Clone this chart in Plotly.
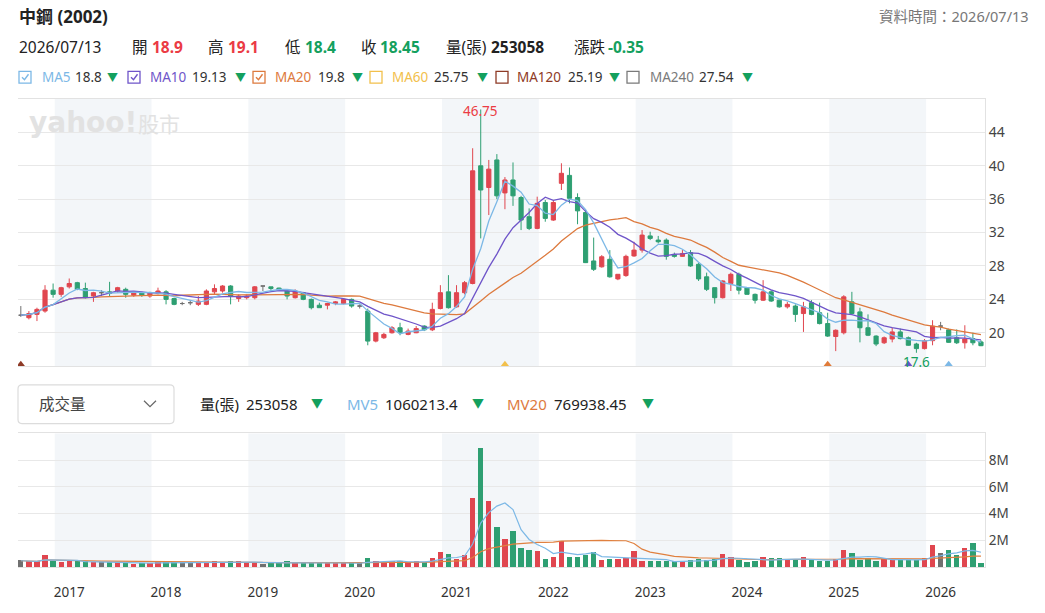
import plotly.graph_objects as go
import pandas as pd

# ---------------- data ----------------
months = pd.period_range("2016-09", periods=120, freq="M")

opens = [22.1, 21.8, 22.2, 22.6, 25.1, 24.6, 25.5, 26.0, 25.3, 24.4,
         24.8, 24.9, 25.0, 25.2, 24.5, 24.8, 24.4, 24.7, 24.9, 24.1,
         23.5, 23.6, 23.4, 23.4, 24.9, 25.0, 25.6, 24.1, 24.2, 24.2,
         25.6, 25.5, 25.35, 25.0, 24.2, 24.8, 24.0, 23.3, 23.3, 23.5,
         23.5, 24.0, 23.2, 22.6, 19.0, 19.4, 20.0, 20.6, 19.8, 20.0,
         20.8, 20.35, 22.9, 24.9, 23.1, 24.8, 25.9, 40.0, 37.4, 40.7,
         36.75, 38.3, 36.2, 33.9, 32.5, 35.6, 33.5, 37.9, 38.85, 36.2,
         34.4, 28.6, 27.9, 28.8, 26.45, 26.85, 29.2, 29.9, 31.6, 31.1,
         31.1, 29.35, 29.15, 29.6, 28.2, 26.7, 25.4, 24.2, 25.9, 27.0,
         25.4, 24.6, 23.9, 24.9, 23.9, 23.1, 23.2, 22.3, 23.6, 22.4,
         21.1, 19.55, 20.0, 23.7, 22.5, 20.6, 19.6, 18.8, 19.25, 20.1,
         19.4, 18.65, 18.1, 19.05, 20.8, 20.35, 19.4, 18.8, 19.3, 18.9]
highs = [23.2, 22.6, 23.0, 25.7, 25.9, 25.5, 26.5, 26.1, 26.0, 24.9,
         25.1, 26.1, 25.5, 25.4, 24.9, 24.9, 24.9, 25.4, 25.1, 24.2,
         23.7, 23.9, 24.4, 25.2, 25.8, 25.7, 25.7, 24.6, 24.6, 25.6,
         25.6, 25.5, 25.4, 25.2, 25.2, 24.9, 24.1, 23.6, 23.6, 23.8,
         24.1, 24.1, 23.4, 22.9, 20.1, 20.0, 20.8, 21.2, 20.5, 20.8,
         20.9, 23.6, 25.7, 26.9, 25.7, 26.2, 42.1, 46.75, 40.7, 41.4,
         38.65, 40.4, 36.4, 34.9, 36.3, 35.9, 35.9, 40.3, 39.8, 36.7,
         34.7, 31.4, 29.3, 29.9, 27.0, 29.35, 30.9, 32.3, 32.1, 31.6,
         31.3, 29.6, 29.9, 29.9, 28.35, 27.2, 25.4, 26.3, 27.2, 27.2,
         25.4, 24.7, 26.3, 25.1, 24.0, 23.7, 23.4, 23.7, 23.9, 23.6,
         22.4, 20.4, 24.5, 24.9, 23.0, 22.2, 19.7, 19.55, 20.6, 20.5,
         19.55, 18.8, 19.25, 21.5, 21.3, 20.5, 20.4, 20.9, 20.0, 19.1]
lows = [21.9, 21.6, 21.4, 22.4, 24.2, 24.3, 25.3, 25.1, 24.1, 23.7,
        24.4, 24.4, 24.8, 24.2, 24.3, 24.3, 24.2, 24.6, 23.4, 23.3,
        23.3, 23.3, 23.2, 23.3, 24.6, 24.8, 23.4, 23.7, 24.0, 24.0,
        25.0, 25.0, 25.0, 24.0, 24.1, 23.9, 22.8, 23.0, 22.8, 23.3,
        23.4, 23.0, 22.9, 18.5, 18.85, 19.25, 19.9, 19.7, 19.7, 19.95,
        20.2, 20.2, 22.8, 22.9, 23.0, 24.6, 25.8, 31.3, 34.1, 36.0,
        34.8, 35.2, 32.3, 32.3, 32.4, 33.3, 33.4, 37.1, 35.5, 33.0,
        28.35, 27.4, 27.8, 26.6, 26.3, 26.7, 29.1, 29.6, 31.1, 30.7,
        28.75, 29.0, 29.1, 27.9, 26.2, 25.0, 23.5, 24.1, 25.0, 24.6,
        24.6, 23.5, 23.8, 23.7, 23.0, 22.9, 21.3, 20.1, 22.1, 21.0,
        19.5, 17.8, 19.8, 22.2, 18.85, 19.6, 18.4, 18.65, 18.85, 19.2,
        18.45, 17.6, 18.0, 18.5, 20.3, 18.8, 18.65, 18.1, 18.5, 18.4]
closes = [22.1, 22.3, 22.8, 25.1, 24.6, 25.4, 25.9, 25.2, 24.2, 24.8,
          24.8, 24.7, 25.4, 24.6, 24.8, 24.5, 24.8, 25.0, 24.0, 23.4,
          23.5, 23.6, 23.8, 25.0, 25.3, 25.6, 24.4, 24.4, 24.4, 25.5,
          25.6, 25.3, 25.1, 24.4, 25.0, 24.0, 23.0, 23.0, 23.5, 23.7,
          24.0, 23.2, 23.2, 19.0, 20.0, 19.8, 20.6, 20.0, 20.2, 20.5,
          20.35, 22.8, 24.8, 23.0, 24.8, 26.0, 39.4, 37.1, 39.6, 36.4,
          38.3, 36.4, 33.5, 32.5, 35.5, 33.7, 35.6, 39.1, 36.1, 34.6,
          28.4, 27.6, 29.1, 26.7, 27.0, 29.15, 29.9, 31.7, 31.3, 30.9,
          29.15, 29.15, 29.5, 28.0, 26.45, 25.2, 24.2, 26.2, 27.0, 25.1,
          24.6, 23.9, 24.9, 23.8, 23.1, 23.4, 22.2, 23.1, 22.2, 21.1,
          19.6, 20.3, 24.3, 22.3, 20.6, 19.7, 18.65, 19.4, 20.1, 19.3,
          18.5, 18.1, 19.05, 20.8, 20.8, 18.85, 18.8, 19.25, 18.8, 18.45]
volumes = [470000, 390000, 390000, 890000, 440000, 320000, 470000, 390000, 390000, 350000,
           350000, 350000, 350000, 320000, 220000, 270000, 270000, 440000, 350000, 350000,
           320000, 320000, 320000, 320000, 440000, 350000, 390000, 390000, 350000, 350000,
           220000, 270000, 270000, 440000, 320000, 270000, 320000, 320000, 320000, 270000,
           270000, 270000, 270000, 640000, 440000, 350000, 390000, 440000, 350000, 390000,
           350000, 640000, 1060000, 960000, 550000, 890000, 5130000, 8900000, 4890000, 2990000,
           2050000, 2670000, 1380000, 1210000, 1140000, 590000, 690000, 1930000, 740000, 690000,
           890000, 1090000, 500000, 590000, 570000, 640000, 1140000, 390000, 440000, 390000,
           390000, 390000, 390000, 500000, 590000, 500000, 590000, 940000, 740000, 500000,
           320000, 440000, 690000, 640000, 640000, 500000, 500000, 690000, 500000, 440000,
           440000, 590000, 1210000, 990000, 500000, 640000, 440000, 590000, 590000, 500000,
           500000, 500000, 640000, 1580000, 990000, 1210000, 890000, 1360000, 1800000, 253058]

signal_idx = [0, 60, 100, 110, 115]
signal_colors = ["#8E3A26", "#F2C04C", "#E07B39", "#6F55C9", "#7CB8E6"]

ma_names = ["MA5", "MA10", "MA20", "MA60", "MA120", "MA240"]
ma_values = ["18.8", "19.13", "19.8", "25.75", "25.19", "27.54"]
ma_colors = ["#7CB8E6", "#6F55C9", "#DD7A3E", "#F2C04C", "#8E3A26", "#7A7A7A"]
ma_checked = [True, True, True, False, False, False]

# ---------------- style ----------------
RED = "#E0464F"
GREEN = "#2E9F72"
GRAY = "#707070"
TXT_RED = "#EB3B44"
TXT_GREEN = "#14A05E"
FONT = "Noto Sans, Noto Sans CJK TC, sans-serif"
W, H = 1045, 613
L, R, T, B = 18, 60, 99, 41
PW, PH = W - L - R, H - T - B


def px(x):
    return (x - L) / PW


def py(y):
    return (H - B - y) / PH


idx = list(range(len(closes)))
flat = [i for i in idx if closes[i] == opens[i]]
moving = [i for i in idx if closes[i] != opens[i]]
bar_colors = [RED if closes[i] > opens[i] else (GREEN if closes[i] < opens[i] else GRAY) for i in idx]

cs = pd.Series(closes)
vs = pd.Series(volumes)
ma5 = cs.rolling(5, min_periods=1).mean()
ma10 = cs.rolling(10, min_periods=1).mean()
ma20 = cs.rolling(20, min_periods=1).mean()
mv5 = vs.rolling(5, min_periods=1).mean()
mv20 = vs.rolling(20, min_periods=1).mean()

fig = go.Figure()
fig.add_trace(go.Candlestick(
    x=moving, open=[opens[i] for i in moving], high=[highs[i] for i in moving],
    low=[lows[i] for i in moving], close=[closes[i] for i in moving],
    increasing=dict(line=dict(color=RED, width=1), fillcolor=RED),
    decreasing=dict(line=dict(color=GREEN, width=1), fillcolor=GREEN),
    whiskerwidth=0, xaxis="x", yaxis="y", hoverinfo="skip"))
fig.add_trace(go.Candlestick(
    x=flat, open=[opens[i] for i in flat], high=[highs[i] for i in flat],
    low=[lows[i] for i in flat], close=[closes[i] for i in flat],
    increasing=dict(line=dict(color=GRAY, width=1), fillcolor=GRAY),
    decreasing=dict(line=dict(color=GRAY, width=1), fillcolor=GRAY),
    whiskerwidth=0, xaxis="x", yaxis="y", hoverinfo="skip"))
for s, c in [(ma20, ma_colors[2]), (ma10, ma_colors[1]), (ma5, ma_colors[0])]:
    fig.add_trace(go.Scatter(x=idx, y=s, mode="lines", line=dict(color=c, width=1.3),
                             xaxis="x", yaxis="y", hoverinfo="skip"))
fig.add_trace(go.Scatter(x=signal_idx, y=[16] * len(signal_idx), mode="markers",
                         marker=dict(symbol="triangle-up", size=11, color=signal_colors),
                         cliponaxis=True, xaxis="x", yaxis="y", hoverinfo="skip"))

fig.add_trace(go.Bar(x=idx, y=volumes, marker=dict(color=bar_colors, line=dict(width=0)),
                     width=0.66, xaxis="x2", yaxis="y2", hoverinfo="skip"))
fig.add_trace(go.Scatter(x=idx, y=mv20, mode="lines", line=dict(color="#E0803F", width=1.2),
                         xaxis="x2", yaxis="y2", hoverinfo="skip"))
fig.add_trace(go.Scatter(x=idx, y=mv5, mode="lines", line=dict(color="#7CB8E6", width=1.2),
                         xaxis="x2", yaxis="y2", hoverinfo="skip"))

# year bands and ticks
jan_idx = [i for i, m in enumerate(months) if m.month == 1]
years = [str(months[i].year) for i in jan_idx]
shapes = []
for k, i in enumerate(jan_idx):
    if months[i].year % 2 == 1 and i + 12 <= len(idx) + 1:
        for yr in ["y domain", "y2 domain"]:
            shapes.append(dict(type="rect", xref="x", yref=yr, x0=i + 0.2, x1=i + 12.2, y0=0, y1=1,
                               fillcolor="#F3F6F9", line=dict(width=0), layer="below"))

xr = [-0.35, 119.5]
y_dom_price = [py(369), 1.0]
y_dom_vol = [0.0, py(437)]
axis_line = "#E2E2E2"
fig.update_layout(
    width=W, height=H, margin=dict(l=L, r=R, t=T, b=B),
    paper_bgcolor="white", plot_bgcolor="white", showlegend=False,
    boxgap=0.26, bargap=0,
    font=dict(family=FONT, color="#333"),
    xaxis=dict(domain=[0, 1], range=xr, anchor="y", showgrid=False, zeroline=False,
               showticklabels=False, showline=True, mirror=True, linecolor=axis_line,
               rangeslider=dict(visible=False), fixedrange=True),
    yaxis=dict(domain=y_dom_price, range=[16, 48], side="right", anchor="x",
               tickvals=[20, 24, 28, 32, 36, 40, 44], showgrid=True, gridcolor="#E8E8E8",
               zeroline=False, showline=True, linecolor=axis_line, ticks="",
               tickfont=dict(size=14, color="#444")),
    xaxis2=dict(domain=[0, 1], range=xr, anchor="y2", showgrid=False, zeroline=False,
                tickvals=[i + 2.0 for i in jan_idx], ticktext=years, ticks="",
                ticklabelstandoff=13, tickfont=dict(size=13.5, color="#333"),
                showline=True, mirror=True, linecolor=axis_line),
    yaxis2=dict(domain=y_dom_vol, range=[0, 10e6], side="right", anchor="x2",
                tickvals=[2e6, 4e6, 6e6, 8e6], ticktext=["2M", "4M", "6M", "8M"],
                showgrid=True, gridcolor="#E8E8E8", zeroline=False, showline=True,
                linecolor=axis_line, ticks="", tickfont=dict(size=13.5, color="#444")),
)

ann = []


def text(x, y, t, size, color="#333", xanchor="left", family=FONT):
    ann.append(dict(xref="paper", yref="paper", x=px(x), y=py(y), text=t, showarrow=False,
                    xanchor=xanchor, yanchor="middle", font=dict(size=size, color=color, family=family)))


# watermark
text(27, 123, "<b>yahoo!</b>", 28, "#E2E2E2", family="DejaVu Sans")
text(136, 124, "股市", 21, "#E2E2E2")

# header
text(17, 16, "<b>中鋼 (2002)</b>", 17, "#222")
text(1031, 15, "資料時間：2026/07/13", 14.5, "#777", xanchor="right")
text(17, 46, "2026/07/13", 15.5, "#222")
text(130, 46, "開", 15.5, "#222")
text(150, 46, "<b>18.9</b>", 15.5, TXT_RED)
text(206, 46, "高", 15.5, "#222")
text(226, 46, "<b>19.1</b>", 15.5, TXT_RED)
text(283, 46, "低", 15.5, "#222")
text(303, 46, "<b>18.4</b>", 15.5, TXT_GREEN)
text(359, 46, "收", 15.5, "#222")
text(378, 46, "<b>18.45</b>", 15.5, TXT_GREEN)
text(444, 46, "量(張)", 15.5, "#222")
text(489, 46, "<b>253058</b>", 15.5, "#222")
text(572, 46, "漲跌", 15.5, "#222")
text(606, 46, "<b>-0.35</b>", 15.5, TXT_GREEN)

# MA legend row
box_x = [19, 128, 253, 370, 496, 627]
lab_x = [40, 148, 273, 390, 515, 648]
val_x = [73, 190, 316, 432, 566, 697]
arr_x = [105, 233, 350, 475, 607, 740]
for k in range(len(ma_names)):
    x0 = box_x[k]
    shapes.append(dict(type="rect", xref="paper", yref="paper", x0=px(x0), x1=px(x0 + 12),
                       y0=py(83), y1=py(71), line=dict(color=ma_colors[k], width=1.3),
                       fillcolor="white"))
    if ma_checked[k]:
        path = "M %f,%f L %f,%f L %f,%f" % (px(x0 + 3), py(77), px(x0 + 5.5), py(79.5),
                                            px(x0 + 9.5), py(74))
        shapes.append(dict(type="path", xref="paper", yref="paper", path=path,
                           line=dict(color=ma_colors[k], width=1.4)))
    text(lab_x[k], 77, ma_names[k], 13.5, ma_colors[k])
    text(val_x[k], 77, ma_values[k], 13.5, "#333")
    text(arr_x[k], 77, "▼", 11, TXT_GREEN)

# volume header row
r = 4
bx0, bx1, by0, by1 = 18, 174, 388, 427
rp = ("M %f,%f L %f,%f Q %f,%f %f,%f L %f,%f Q %f,%f %f,%f L %f,%f Q %f,%f %f,%f "
      "L %f,%f Q %f,%f %f,%f Z") % (
    px(bx0 + r), py(by0), px(bx1 - r), py(by0), px(bx1), py(by0), px(bx1), py(by0 + r),
    px(bx1), py(by1 - r), px(bx1), py(by1), px(bx1 - r), py(by1),
    px(bx0 + r), py(by1), px(bx0), py(by1), px(bx0), py(by1 - r),
    px(bx0), py(by0 + r), px(bx0), py(by0), px(bx0 + r), py(by0))
shapes.append(dict(type="path", xref="paper", yref="paper", path=rp,
                   line=dict(color="#DCDCDC", width=1.2), fillcolor="white"))
chev = "M %f,%f L %f,%f L %f,%f" % (px(144), py(404), px(150), py(410), px(156), py(404))
shapes.append(dict(type="path", xref="paper", yref="paper", path=chev,
                   line=dict(color="#666", width=1.2)))
text(37, 407, "成交量", 15.5, "#444")
text(198, 407, "量(張)", 15, "#222")
text(244, 407, "253058", 15, "#222")
text(309, 407, "▼", 12, TXT_GREEN)
text(345, 407, "MV5", 15, "#7CB8E6")
text(383, 407, "1060213.4", 15, "#222")
text(470, 407, "▼", 12, TXT_GREEN)
text(505, 407, "MV20", 15, "#DD7A3E")
text(552, 407, "769938.45", 15, "#222")
text(640, 407, "▼", 12, TXT_GREEN)

# max / min labels
imax = max(idx, key=lambda i: highs[i])
imin = min(idx, key=lambda i: lows[i])
ann.append(dict(xref="x", yref="y", x=imax, y=highs[imax], text=f"{highs[imax]:g}",
                showarrow=False, xanchor="center", yanchor="middle", yshift=-2,
                font=dict(size=13.5, color=TXT_RED, family=FONT)))
ann.append(dict(xref="x", yref="y", x=imin, y=lows[imin], text=f"{lows[imin]:g}",
                showarrow=False, xanchor="center", yanchor="middle", yshift=-9,
                font=dict(size=13.5, color=TXT_GREEN, family=FONT)))

fig.update_layout(shapes=shapes, annotations=ann)
fig.write_html("out.html")
